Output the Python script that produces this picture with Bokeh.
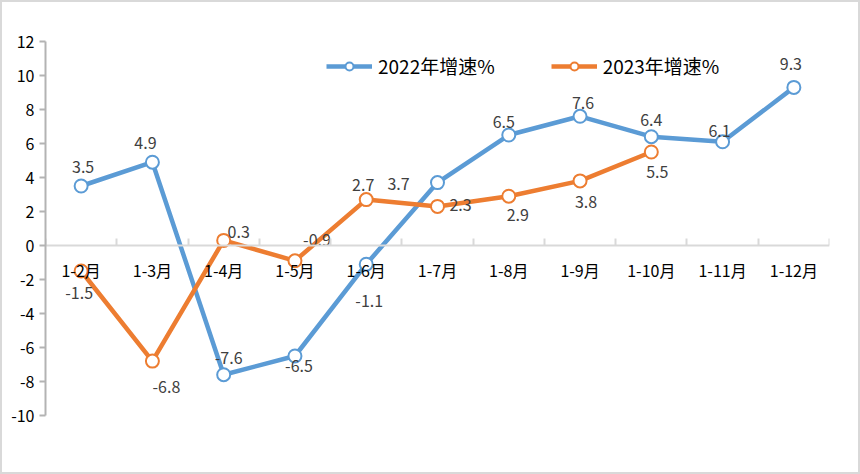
from bokeh.plotting import figure
from bokeh.models import (Range1d, FixedTicker, LinearAxis,
                          Legend, LegendItem, ColumnDataSource)
from bokeh.core.properties import value
from bokeh.embed import file_html
from bokeh.resources import INLINE

# ---------------- data ----------------
categories = ["1-2月", "1-3月", "1-4月", "1-5月", "1-6月", "1-7月",
              "1-8月", "1-9月", "1-10月", "1-11月", "1-12月"]
growth_2022 = [3.5, 4.9, -7.6, -6.5, -1.1, 3.7, 6.5, 7.6, 6.4, 6.1, 9.3]
growth_2023 = [-1.5, -6.8, 0.3, -0.9, 2.7, 2.3, 2.9, 3.8, 5.5]
y_ticks = [-10, -8, -6, -4, -2, 0, 2, 4, 6, 8, 10, 12]
series_names = ["2022年增速%", "2023年增速%"]

# ---------------- style ----------------
BLUE = "#5b9bd5"
ORANGE = "#ed7d31"
FONT = "Noto Sans CJK SC"
W, H = 860, 474
# data-label offsets in screen pixels (dx, dy; dy positive = down)
lab_off_2022 = [(2, -19), (-7, -19), (5, -17), (4, 10), (3, 37), (-39, 1),
                (-5, -13), (3, -13), (0, -17), (-3, -11), (-3, -23)]
lab_off_2023 = [(-2, 22), (14, 26), (15, -8), (22, -21), (-3, -15), (23, -1),
                (9, 19), (6, 21), (6, 20)]

n_cat = len(categories)
centers = [i + 0.5 for i in range(n_cat)]

p = figure(width=W, height=H,
           x_range=Range1d(0, n_cat),
           y_range=Range1d(y_ticks[0], y_ticks[-1]),
           output_backend="svg", toolbar_location=None,
           x_axis_location=None, y_axis_location="left",
           min_border_left=45, min_border_right=31,
           min_border_top=41, min_border_bottom=59)
p.outline_line_color = None
p.grid.visible = False
p.background_fill_color = "white"
p.border_fill_color = None
p.styles = {"background-color": "white",
            "box-shadow": "inset 0 0 0 2px #d9d9d9"}

# y axis
ya = p.yaxis[0]
ya.ticker = FixedTicker(ticks=y_ticks)
ya.major_label_overrides = {t: str(t) for t in y_ticks}
ya.axis_line_color = "#b3b3b3"
ya.axis_line_width = 2
ya.major_tick_line_color = "#b3b3b3"
ya.major_tick_line_width = 2
ya.major_tick_in = 0
ya.major_tick_out = 6
ya.minor_tick_line_color = None
ya.major_label_standoff = 5
ya.major_label_text_font = FONT
ya.major_label_text_font_size = "16px"
ya.major_label_text_color = "black"

# horizontal axis line at y=0 with ticks at category boundaries
bax = LinearAxis(fixed_location=0,
                 ticker=FixedTicker(ticks=list(range(n_cat + 1))),
                 axis_line_color="#d9d9d9", axis_line_width=2,
                 major_tick_line_color="#d9d9d9", major_tick_line_width=2,
                 major_tick_in=0, major_tick_out=7,
                 minor_tick_line_color=None,
                 major_label_text_font_size="0px", major_label_text_color=None)
p.add_layout(bax, "above")

# category labels under the zero line
cax = LinearAxis(fixed_location=0,
                 ticker=FixedTicker(ticks=centers),
                 major_label_overrides={c: lab for c, lab in zip(centers, categories)},
                 axis_line_color=None, major_tick_line_color=None,
                 minor_tick_line_color=None,
                 major_tick_in=0, major_tick_out=0,
                 major_label_standoff=12,
                 major_label_text_font=FONT,
                 major_label_text_font_size="16px",
                 major_label_text_color="black")
p.add_layout(cax, "below")

# series
x22 = centers[:len(growth_2022)]
x23 = centers[:len(growth_2023)]
src22 = ColumnDataSource(dict(x=x22, y=growth_2022,
                              t=[f"{v:.1f}" for v in growth_2022],
                              dx=[o[0] for o in lab_off_2022],
                              dy=[o[1] for o in lab_off_2022]))
src23 = ColumnDataSource(dict(x=x23, y=growth_2023,
                              t=[f"{v:.1f}" for v in growth_2023],
                              dx=[o[0] for o in lab_off_2023],
                              dy=[o[1] for o in lab_off_2023]))

l22 = p.line("x", "y", source=src22, line_color=BLUE, line_width=4.5, line_join="round")
m22 = p.scatter("x", "y", source=src22, size=13, marker="circle",
                fill_color="white", line_color=BLUE, line_width=2)
l23 = p.line("x", "y", source=src23, line_color=ORANGE, line_width=4.5, line_join="round")
m23 = p.scatter("x", "y", source=src23, size=13, marker="circle",
                fill_color="white", line_color=ORANGE, line_width=2)

for src in (src22, src23):
    p.text("x", "y", text="t", source=src, x_offset="dx", y_offset="dy",
           text_align="center", text_baseline="middle",
           text_font=value(FONT), text_font_size="16px", text_color="#404040")

legend = Legend(items=[LegendItem(label=series_names[0], renderers=[l22, m22]),
                       LegendItem(label=series_names[1], renderers=[l23, m23])],
                location=(281, 336), orientation="horizontal",
                border_line_color=None, background_fill_alpha=0,
                padding=0, margin=0, spacing=56,
                glyph_width=46, glyph_height=20, label_standoff=6,
                label_text_font=FONT, label_text_font_size="19px",
                label_text_color="black")
p.add_layout(legend)

open("out.html", "w").write(file_html(p, INLINE))
